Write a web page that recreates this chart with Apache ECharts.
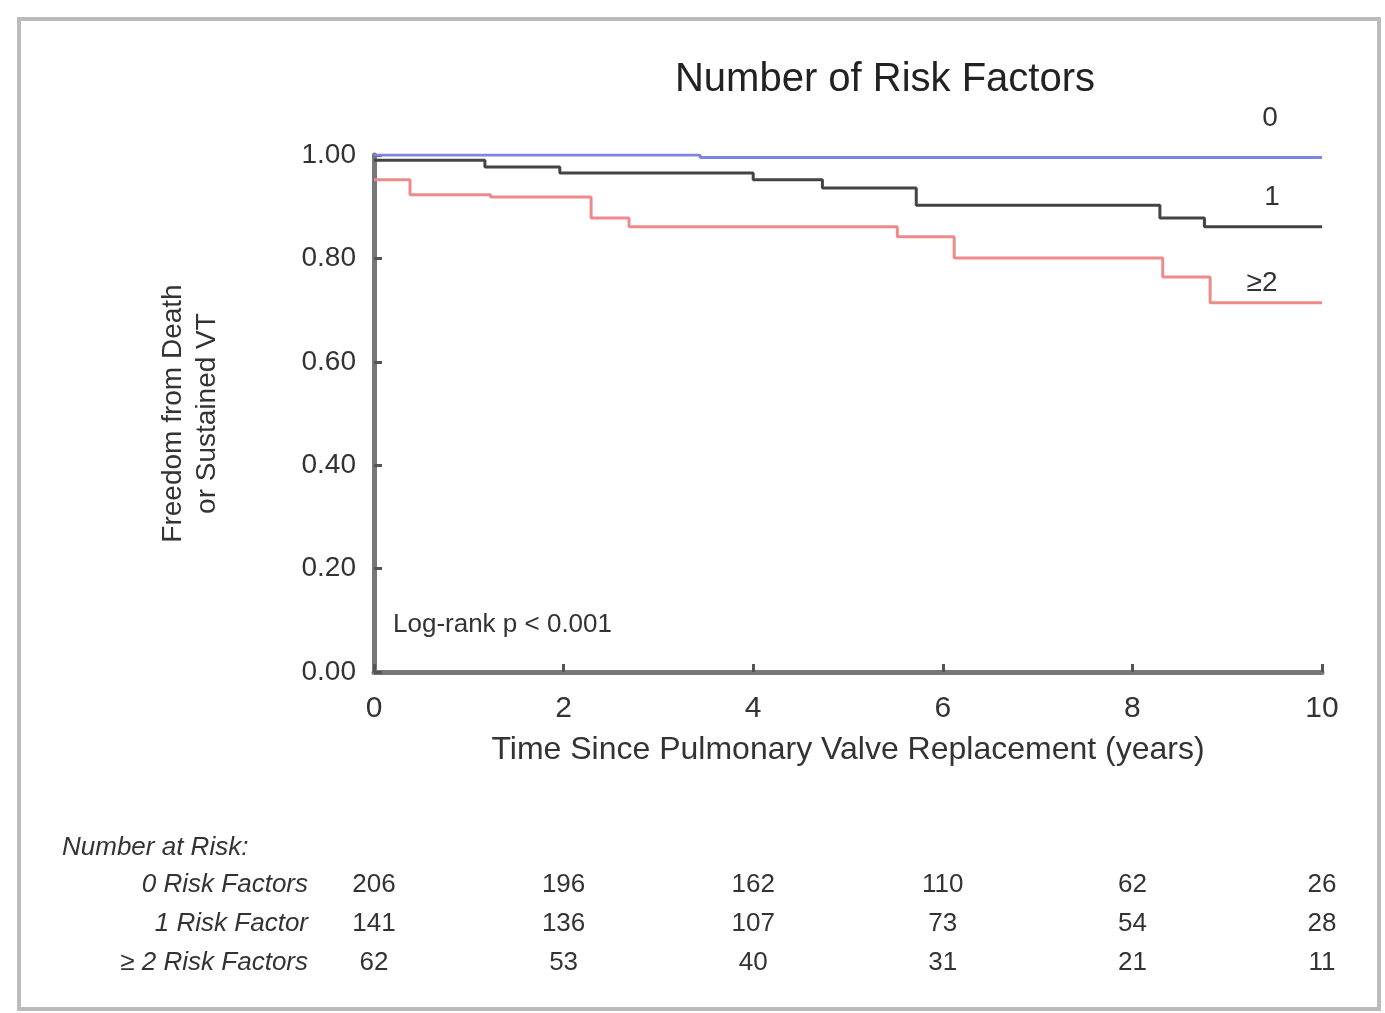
<!DOCTYPE html>
<html>
<head>
<meta charset="utf-8">
<script src="https://cdn.jsdelivr.net/npm/echarts@6/dist/echarts.min.js"></script>
<style>
  html, body { margin: 0; padding: 0; background: #fff; }
  #main { width: 1385px; height: 1013px; }
</style>
</head>
<body>
<div id="main"></div>
<script>
// Kaplan-Meier steps [years, survival]
const zeroRisk = [[0, 1.0], [3.44, 0.995], [10, 0.995]];
const oneRisk = [[0, 0.99], [1.17, 0.977], [1.96, 0.965], [4.0, 0.952], [4.73, 0.936], [5.72, 0.903], [8.29, 0.878], [8.76, 0.861], [10, 0.861]];
const twoRisk = [[0, 0.952], [0.38, 0.923], [1.23, 0.919], [2.29, 0.878], [2.69, 0.861], [5.52, 0.842], [6.12, 0.801], [8.32, 0.764], [8.82, 0.714], [10, 0.714]];

const riskTimes = [0, 2, 4, 6, 8, 10];
const riskRows = ['0 Risk Factors', '1 Risk Factor', '≥ 2 Risk Factors'];
const riskCounts = [
  [206, 196, 162, 110, 62, 26],
  [141, 136, 107, 73, 54, 28],
  [62, 53, 40, 31, 21, 11]
];

const myChart = echarts.init(document.getElementById('main'));
const font = 'Liberation Sans, Arial, sans-serif';
const option = {
  animation: false,
  backgroundColor: '#fff',
  title: {
    text: 'Number of Risk Factors',
    left: 880, top: 55, textAlign: 'center',
    textStyle: { fontFamily: font, fontSize: 40, fontWeight: 'normal', color: '#222' }
  },
  grid: { left: 374, right: 63, top: 155, bottom: 341 },
  xAxis: {
    type: 'value', min: 0, max: 10, interval: 2,
    name: 'Time Since Pulmonary Valve Replacement (years)',
    nameLocation: 'middle', nameGap: 62,
    nameTextStyle: { fontFamily: font, fontSize: 32, color: '#333' },
    axisLine: { lineStyle: { color: '#777', width: 5 } },
    axisTick: { show: true, inside: true, length: 8, lineStyle: { color: '#555', width: 3 } },
    axisLabel: { fontFamily: font, fontSize: 30, color: '#333', margin: 22 },
    splitLine: { show: false }
  },
  yAxis: {
    type: 'value', min: 0, max: 1, interval: 0.2,
    name: 'Freedom from Death\nor Sustained VT',
    nameLocation: 'middle', nameGap: 150,
    nameTextStyle: { fontFamily: font, fontSize: 28, color: '#333', lineHeight: 34 },
    axisLine: { show: true, lineStyle: { color: '#777', width: 5 } },
    axisTick: { show: true, inside: true, length: 8, lineStyle: { color: '#555', width: 3 } },
    axisLabel: { fontFamily: font, fontSize: 28, color: '#333', margin: 18,
      formatter: v => v.toFixed(2) },
    splitLine: { show: false }
  },
  series: [
    { name: '0', type: 'line', step: 'end', data: zeroRisk, symbol: 'none',
      lineStyle: { color: '#7f86e0', width: 3 } },
    { name: '1', type: 'line', step: 'end', data: oneRisk, symbol: 'none',
      lineStyle: { color: '#444', width: 3 } },
    { name: '≥2', type: 'line', step: 'end', data: twoRisk, symbol: 'none',
      lineStyle: { color: '#ee8a8a', width: 3 } }
  ]
};
myChart.setOption(option);

// labels, note and number-at-risk table
const g = [];
const txt = (x, y, s, size, align, italic) => g.push({
  type: 'text', x: x, y: y,
  style: { text: s, fontFamily: font, fontSize: size, fill: '#333', align: align || 'left',
    verticalAlign: 'middle', fontStyle: italic ? 'italic' : 'normal' }
});
txt(1270, 118, '0', 28, 'center');
txt(1272, 197, '1', 28, 'center');
txt(1262, 283, '≥2', 28, 'center');
txt(393, 625, 'Log-rank p < 0.001', 26);
txt(62, 848, 'Number at Risk:', 26, 'left', true);
riskRows.forEach((r, i) => {
  const y = 885 + i * 39;
  txt(308, y, r, 26, 'right', true);
  riskTimes.forEach((t, j) => {
    const x = myChart.convertToPixel({ gridIndex: 0 }, [t, 0])[0];
    txt(x, y, String(riskCounts[i][j]), 26, 'center');
  });
});
g.push({ type: 'rect', shape: { x: 19, y: 19, width: 1360, height: 990 },
  style: { fill: 'none', stroke: '#bbb', lineWidth: 4 } });
myChart.setOption({ graphic: g });
</script>
</body>
</html>
